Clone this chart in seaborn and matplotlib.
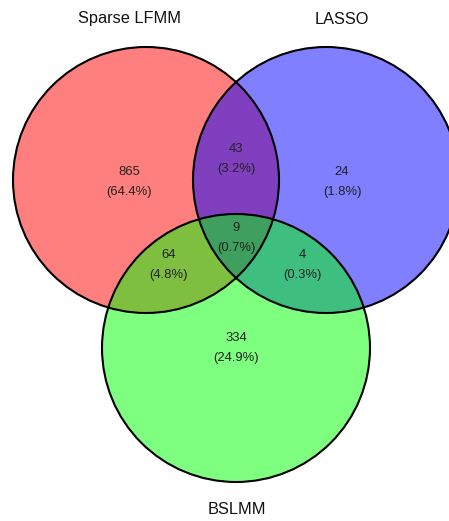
import matplotlib
matplotlib.use("Agg")
import matplotlib.pyplot as plt
from matplotlib.patches import Circle
import seaborn as sns

# ── Data ──────────────────────────────────────────────────────────────────
set_names = ["Sparse LFMM", "LASSO", "BSLMM"]
set_colors = ["#ff0000", "#0000ff", "#00ff00"]

# region order: LFMM only, LFMM&LASSO, LASSO only, all three,
#               LFMM&BSLMM, LASSO&BSLMM, BSLMM only
region_names = ["L", "LA", "A", "LAB", "LB", "AB", "B"]
region_counts = [865, 43, 24, 9, 64, 4, 334]

# ── Layout (pixel coords, y downwards) ────────────────────────────────────
centers = [(146, 180), (326, 180), (236, 348)]
radii = [133, 133, 134]
name_pos = [(129, 19), (342, 19), (237, 510)]
region_pos = {
    "L": (129, 182), "LA": (236, 159), "A": (342, 182), "LAB": (236, 238),
    "LB": (169, 265), "AB": (302, 265), "B": (236, 348),
}

sns.set_theme(style="white")
plt.rcParams["font.family"] = ["Liberation Sans", "DejaVu Sans"]

fig = plt.figure(figsize=(4.49, 5.21), dpi=100)
ax = fig.add_axes([0, 0, 1, 1])
ax.set_xlim(0, 449)
ax.set_ylim(521, 0)
ax.axis("off")

for (cx, cy), r, col in zip(centers, radii, set_colors):
    ax.add_patch(Circle((cx, cy), r, facecolor=col, edgecolor="none", alpha=0.5))
for (cx, cy), r in zip(centers, radii):
    ax.add_patch(Circle((cx, cy), r, facecolor="none", edgecolor="black", lw=1.5))

for name, (x, y) in zip(set_names, name_pos):
    ax.text(x, y, name, ha="center", va="center", fontsize=11.8, color="#111111")

total = sum(region_counts)
for key, n in zip(region_names, region_counts):
    x, y = region_pos[key]
    ax.text(x, y - 10, f"{n}", ha="center", va="center", fontsize=9.4, color="#222222")
    ax.text(x, y + 10, f"({100 * n / total:.1f}%)", ha="center", va="center",
            fontsize=9.4, color="#222222")

fig.savefig("out.png", dpi=100)
